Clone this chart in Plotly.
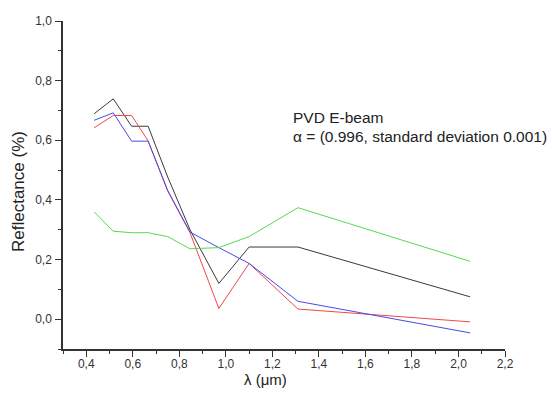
import plotly.graph_objects as go

wavelength = [0.434, 0.516, 0.595, 0.666, 0.75, 0.846, 0.97, 1.1, 1.31, 2.05]
black_series = [0.689, 0.739, 0.647, 0.647, 0.477, 0.30, 0.12, 0.242, 0.242, 0.075]
red_series = [0.642, 0.683, 0.683, 0.598, 0.43, 0.29, 0.036, 0.187, 0.034, -0.009]
blue_series = [0.667, 0.692, 0.597, 0.597, 0.432, 0.292, 0.24, 0.187, 0.06, -0.046]
green_series = [0.36, 0.295, 0.29, 0.29, 0.277, 0.236, 0.24, 0.277, 0.374, 0.194]

x_ticks = [0.4, 0.6, 0.8, 1.0, 1.2, 1.4, 1.6, 1.8, 2.0, 2.2]
y_ticks = [0.0, 0.2, 0.4, 0.6, 0.8, 1.0]

series = [
    (black_series, "#3a3a3a"),
    (red_series, "#f04848"),
    (blue_series, "#4848f0"),
    (green_series, "#50dc50"),
]

FONT = "Liberation Sans, Arial, sans-serif"

fig = go.Figure()
for ys, col in series:
    fig.add_trace(go.Scatter(x=wavelength, y=ys, mode="lines",
                             line=dict(color=col, width=1), showlegend=False))

axis_common = dict(
    showline=True, linecolor="#333333", linewidth=1.5,
    ticks="outside", tickcolor="#333333", tickwidth=1, ticklen=6,
    showgrid=False, zeroline=False, mirror=False, automargin=False,
    tickfont=dict(family=FONT, size=12, color="#333333"),
    tickformat=".1f",
    minor=dict(ticks="outside", ticklen=3, tickcolor="#333333", tickwidth=1, dtick=0.1, showgrid=False),
)

fig.update_layout(
    width=558, height=399,
    margin=dict(l=63, r=53, t=21, b=50),
    paper_bgcolor="white", plot_bgcolor="white",
    separators=",.",
    font=dict(family=FONT, color="#222222"),
    xaxis=dict(range=[0.3, 2.2], tickvals=x_ticks, ticklabelstandoff=-3, **axis_common),
    yaxis=dict(range=[-0.1, 1.0], tickvals=y_ticks, ticklabelstandoff=1, **axis_common),
    annotations=[
        dict(x=265, y=399 - 379, xref="paper", yref="paper", text="λ (μm)",
             showarrow=False, xanchor="center", yanchor="middle",
             font=dict(size=15, color="#222222")),
        dict(x=18, y=399 - 192, xref="paper", yref="paper", text="Reflectance (%)",
             showarrow=False, xanchor="center", yanchor="middle", textangle=-90,
             font=dict(size=17, color="#222222")),
        dict(x=1.282, y=0.675, xref="x", yref="y", text="PVD E-beam",
             showarrow=False, xanchor="left", yanchor="middle",
             font=dict(size=15.5, color="#222222")),
        dict(x=1.282, y=0.612, xref="x", yref="y",
             text="α = (0.996, standard deviation 0.001)",
             showarrow=False, xanchor="left", yanchor="middle",
             font=dict(size=15.5, color="#222222")),
    ],
)

# convert pixel-based paper positions for the two axis-title annotations
plot_w = 558 - 63 - 53
plot_h = 399 - 21 - 50
for ann in fig.layout.annotations[:2]:
    ann.x = (ann.x - 63) / plot_w
    ann.y = (ann.y - 50) / plot_h

fig.write_html("out.html", config={"displayModeBar": False},
               post_script="document.body.style.margin='0';")
